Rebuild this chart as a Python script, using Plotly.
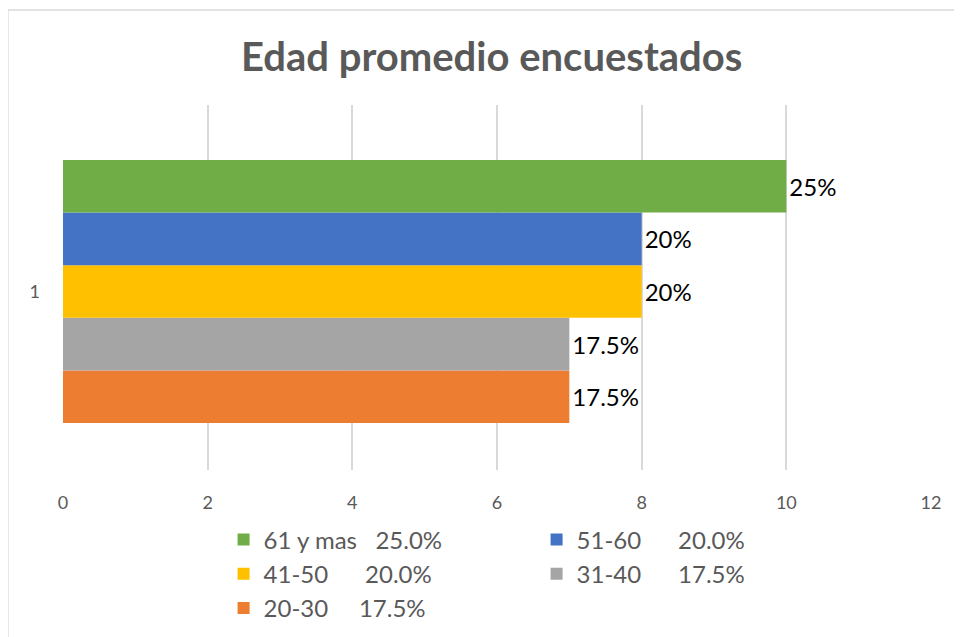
import plotly.graph_objects as go

# age groups, bottom to top as drawn
groups = ["20-30", "31-40", "41-50", "51-60", "61 y mas"]
counts = [7, 7, 8, 8, 10]
bar_labels = ["17.5%", "17.5%", "20%", "20%", "25%"]
legend_pct = ["17.5%", "17.5%", "20.0%", "20.0%", "25.0%"]
colors = ["#ED7D31", "#A5A5A5", "#FFC000", "#4472C4", "#70AD47"]
category = ["1"]

NB = "\u00a0"
pad = {"20-30": 5, "31-40": 6, "41-50": 6, "51-60": 6, "61 y mas": 3}

FONT = "Lato, 'Open Sans', sans-serif"

fig = go.Figure()
for g, c, lab, pct, col in zip(groups, counts, bar_labels, legend_pct, colors):
    fig.add_bar(
        y=category,
        x=[c],
        orientation="h",
        name=g + NB * pad[g] + pct,
        marker=dict(color=col, line=dict(width=0)),
        text=[lab],
        textposition="outside",
        textfont=dict(color="black", size=24, family=FONT),
        cliponaxis=False,
    )

# the page body adds an 8px offset, so the figure is 8px smaller each way
fig.update_layout(
    width=954,
    height=629,
    barmode="group",
    bargap=0.263,
    bargroupgap=0,
    plot_bgcolor="white",
    paper_bgcolor="white",
    font=dict(family=FONT, color="#595959"),
    title=dict(
        text="<b>Edad promedio encuestados</b>",
        x=0.507,
        xanchor="center",
        y=0.922,
        yanchor="middle",
        font=dict(size=40, color="#595959", family=FONT),
    ),
    margin=dict(l=55, r=31, t=97, b=167, autoexpand=False),
    showlegend=True,
    legend=dict(
        orientation="h",
        traceorder="reversed",
        x=0.185,
        xanchor="left",
        y=-0.13,
        yanchor="top",
        entrywidth=268,
        entrywidthmode="pixels",
        font=dict(size=24, color="#595959", family=FONT),
        itemwidth=30,
        tracegroupgap=0,
    ),
    shapes=[
        dict(
            type="rect",
            xref="paper",
            yref="paper",
            x0=-0.0635,
            x1=1.2,
            y0=-0.8,
            y1=1.26,
            line=dict(color="#d9d9d9", width=1.5),
            fillcolor="rgba(0,0,0,0)",
            layer="below",
        )
    ],
)

fig.update_xaxes(
    range=[0, 12],
    dtick=2,
    showgrid=True,
    gridcolor="#d9d9d9",
    gridwidth=1.5,
    zeroline=False,
    showline=False,
    tickfont=dict(size=18, color="#595959"),
    ticklabelstandoff=20,
)
fig.update_yaxes(
    range=[-0.5, 0.5225],
    showgrid=False,
    showline=False,
    zeroline=False,
    tickfont=dict(size=18, color="#595959"),
    ticklabelstandoff=22,
)

fig.write_html("out.html")
